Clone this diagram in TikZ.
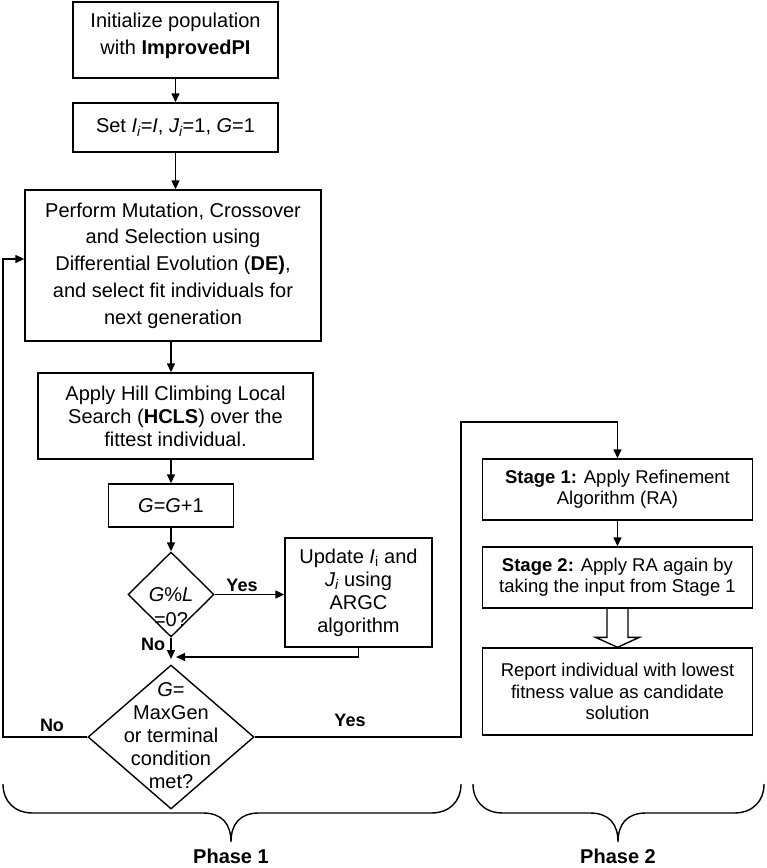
\documentclass[tikz,border=0pt]{standalone}
\usepackage{fontspec}
\setmainfont{Liberation Sans}
\usetikzlibrary{arrows.meta,shapes.geometric,calc}
\begin{document}
\begin{tikzpicture}[x=1pt,y=-1pt,line width=1.4pt,
  box/.style={draw,rectangle,align=center,inner sep=0pt},
  dia/.style={draw,diamond,inner sep=0pt},
  arr/.style={-{Triangle[length=9pt,width=8pt]}},
  lbl/.style={font=\fontsize{18}{20}\selectfont\bfseries},
  txtA/.style={font=\fontsize{20}{27.5}\selectfont},
  txtB/.style={font=\fontsize{20}{23}\selectfont},
  txtC/.style={font=\fontsize{18.5}{21}\selectfont},
  phase/.style={font=\fontsize{20}{24}\selectfont\bfseries,anchor=base}]
\useasboundingbox (0,0) rectangle (767,868);

% Phase 1 boxes
\node[box,minimum width=205pt,minimum height=76pt] (b1) at (175.5,40) {};
\node[txtA,align=center] (b1t) at (175.5,36) {Initialize population\\with \textbf{ImprovedPI}};
\node[box,txtA,minimum width=205pt,minimum height=49pt] (b2) at (175.5,127.5) {Set \textit{I\textsubscript{i}}=\textit{I}, \textit{J\textsubscript{i}}=1, \textit{G}=1};
\node[box,font=\fontsize{20}{26.7}\selectfont,minimum width=296pt,minimum height=151pt] (b3) at (173,265.5) {Perform Mutation, Crossover\\and Selection using\\Differential Evolution (\textbf{DE)},\\and select fit individuals for\\next generation};
\node[box,txtB,minimum width=275pt,minimum height=86pt] (b4) at (175.5,416) {Apply Hill Climbing Local\\Search (\textbf{HCLS}) over the\\fittest individual.};
\node[box,txtA,minimum width=125pt,minimum height=43pt] (b5) at (171,505.5) {\textit{G}=\textit{G}+1};

\node[dia,minimum width=86pt,minimum height=85pt] (d1) at (171,594.5) {};
\node[font=\fontsize{20}{25}\selectfont,align=center] (d1t) at (171,607) {\textit{G}\%\textit{L}\\=0?};
\node[box,txtB,minimum width=147pt,minimum height=109pt] (u) at (358.5,592.5) {Update \textit{I}\textsubscript{i} and\\\textit{J\textsubscript{i}} using\\ARGC\\algorithm};

\node[dia,minimum width=166pt,minimum height=144pt] (d2) at (171,737) {};
\node[txtB,align=center] (d2t) at (171,735.5) {\textit{G}=\\MaxGen\\or terminal\\condition\\met?};

% Phase 2 boxes
\node[box,txtC,minimum width=270pt,minimum height=61pt] (s1) at (617.5,489.5) {\textbf{Stage 1:} Apply Refinement\\Algorithm (RA)};
\node[box,txtC,minimum width=270pt,minimum height=61pt] (s2) at (617.5,577.5) {\textbf{Stage 2:} Apply RA again by\\taking the input from Stage 1};
\node[box,font=\fontsize{18.5}{21.7}\selectfont,minimum width=270pt,minimum height=87pt] (r) at (617.5,691.5) {Report individual with lowest\\fitness value as candidate\\solution};

% connectors
\draw[arr] (b1) -- (b2);
\draw[arr] (b2) -- (b2 |- b3.north);
\draw[arr] (b3.south -| b5) -- (b4.north -| b5);
\draw[arr] (b4.south -| b5) -- (b5);
\draw[arr] (b5) -- (d1);
\draw[arr] (d1.east) -- (d1.east -| u.west);
\coordinate (m) at (171,659);
\coordinate (mr) at (176,657);
\draw[arr] (d1.south) -- (m);
\draw[arr] (u.south) |- (mr);
\draw[arr] (d2.west) -- (3,737) |- ([yshift=6.5pt]b3.west);
\draw[arr] (d2.east) -- (461,737) -- (461,422) -| (s1.north);
\draw[arr] (s1) -- (s2);
\draw[line join=miter] ($(s2.south)+(-10.5,0)$) -- ($(r.north)+(-10.5,-10)$) -- ($(r.north)+(-22,-10)$) -- (r.north) -- ($(r.north)+(22,-10)$) -- ($(r.north)+(10.5,-10)$) -- ($(s2.south)+(10.5,0)$);

% labels
\node[lbl] (y1) at (242,585) {Yes};
\node[lbl] (n1) at (153,644) {No};
\node[lbl] (n2) at (52,725) {No};
\node[lbl] (y2) at (350,720) {Yes};

% braces
\draw (3,784) .. controls (3,801) and (14,813) .. (33,813) -- (203,813) .. controls (222,813) and (231,824) .. (231,842) .. controls (231,824) and (240,813) .. (259,813) -- (431,813) .. controls (450,813) and (461,801) .. (461,784);
\draw (473,784) .. controls (473,801) and (484,813) .. (503,813) -- (590,813) .. controls (609,813) and (618,824) .. (618,842) .. controls (618,824) and (627,813) .. (646,813) -- (734,813) .. controls (753,813) and (764,801) .. (764,784);
\node[phase] (p1) at (231,863) {Phase 1};
\node[phase] (p2) at (618,863) {Phase 2};
\end{tikzpicture}
\end{document}
